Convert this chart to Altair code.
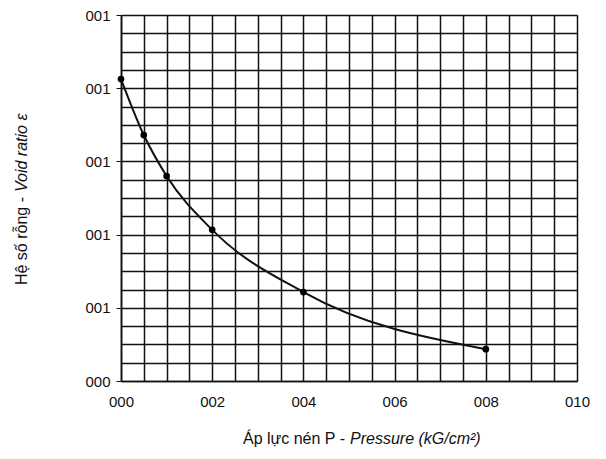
import altair as alt
import pandas as pd

# Data (pressure P, void ratio e on a 0-1 plotted scale)
pressure = [0.0, 0.5, 1.0, 2.0, 4.0, 8.0]
void_ratio = [0.825, 0.672, 0.560, 0.413, 0.243, 0.087]

x_grid = [i * 0.5 for i in range(21)]
y_grid = [round(i * 0.05, 2) for i in range(21)]

df = pd.DataFrame({"P": pressure, "e": void_ratio})

FONT = "Liberation Sans"

x_axis = alt.Axis(
    values=x_grid,
    title=None,
    grid=True,
    gridColor="#111111",
    gridWidth=1.5,
    gridOpacity=1,
    ticks=False,
    domainColor="#111111",
    domainWidth=1.6,
    labelExpr="datum.value % 2 == 0 ? format(datum.value, '03d') : ''",
    labelFont=FONT,
    labelFontSize=15,
    labelColor="#111111",
    labelPadding=13,
    labelFlush=False,
    labelOverlap=False,
)

y_axis = alt.Axis(
    values=y_grid,
    title=None,
    grid=True,
    gridColor="#111111",
    gridWidth=1.5,
    gridOpacity=1,
    ticks=True,
    tickSize=5,
    tickColor="#111111",
    tickOpacity={"condition": {"test": "abs(datum.value*5 - round(datum.value*5)) < 0.001", "value": 1}, "value": 0},
    domainColor="#111111",
    domainWidth=1.6,
    labelExpr="abs(datum.value*5 - round(datum.value*5)) < 0.001 ? (datum.value == 0 ? '000' : '001') : ''",
    labelFont=FONT,
    labelFontSize=15,
    labelColor="#111111",
    labelPadding=6,
    labelFlush=False,
    labelOverlap=False,
)

x_scale = alt.Scale(domain=[0, 10], nice=False, zero=False)
y_scale = alt.Scale(domain=[0, 1], nice=False, zero=False)

base = alt.Chart(df)

line = base.mark_line(color="#111111", strokeWidth=2, interpolate="monotone").encode(
    x=alt.X("P:Q", scale=x_scale, axis=x_axis),
    y=alt.Y("e:Q", scale=y_scale, axis=y_axis),
)
pts = base.mark_circle(color="#000000", size=45, opacity=1).encode(
    x=alt.X("P:Q", scale=x_scale, axis=x_axis),
    y=alt.Y("e:Q", scale=y_scale, axis=y_axis),
)

title_df = pd.DataFrame({"a": [0]})
tx1 = alt.Chart(title_df).mark_text(
    text="Áp lực nén P -", font=FONT, fontSize=16, align="right", baseline="middle", color="#111111"
).encode(x=alt.value(224), y=alt.value(424))
tx2 = alt.Chart(title_df).mark_text(
    text="Pressure (kG/cm²)", font=FONT, fontSize=16, fontStyle="italic", align="left", baseline="middle", color="#111111"
).encode(x=alt.value(229), y=alt.value(424))
ty1 = alt.Chart(title_df).mark_text(
    text="Hệ số rỗng -", font=FONT, fontSize=16, align="right", baseline="middle", angle=270, color="#111111"
).encode(x=alt.value(-99), y=alt.value(182))
ty2 = alt.Chart(title_df).mark_text(
    text="Void ratio ε", font=FONT, fontSize=16, fontStyle="italic", align="left", baseline="middle", angle=270, color="#111111"
).encode(x=alt.value(-99), y=alt.value(177))

chart = alt.layer(line, pts, tx1, tx2, ty1, ty2).properties(
    width=456,
    height=366,
    autosize=alt.AutoSizeParams(type="none"),
    padding={"left": 113, "top": 7, "right": 20, "bottom": 72},
).configure_view(stroke="#111111", strokeWidth=1.6).configure(background="white")

chart.save("out.html", embed_options={"renderer": "svg", "actions": False})
